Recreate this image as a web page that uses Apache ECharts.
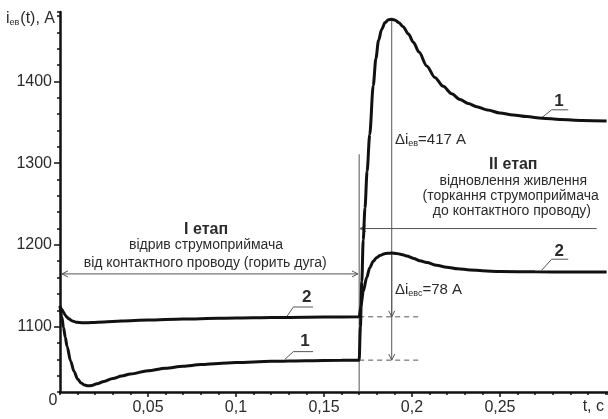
<!DOCTYPE html>
<html>
<head>
<meta charset="utf-8">
<script src="https://cdn.jsdelivr.net/npm/echarts@6/dist/echarts.min.js"></script>
<style>
  html, body { margin: 0; padding: 0; background: #fff; }
  #chart { width: 608px; height: 419px; }
</style>
</head>
<body>
<div id="chart"></div>
<script>
// Curve 1: time, s
const time1 = [
  0, 0.001, 0.002, 0.003, 0.004, 0.006, 0.008, 0.010, 0.012, 0.014, 0.016, 0.018,
  0.021, 0.025, 0.030, 0.035, 0.040, 0.050, 0.060, 0.070, 0.080, 0.090, 0.100,
  0.120, 0.140, 0.160, 0.170,
  0.1707, 0.1715, 0.1723, 0.1733, 0.1745, 0.1760, 0.1780, 0.1795, 0.1810, 0.1828,
  0.1847, 0.1866, 0.1885, 0.1905, 0.1925, 0.1950, 0.1980, 0.2008, 0.2040, 0.2084,
  0.2130, 0.2178, 0.2225, 0.2273, 0.2320, 0.2368, 0.2430, 0.2500, 0.2575, 0.2652,
  0.2740, 0.2840, 0.2970, 0.3106
];
// Curve 1: current, A
const current1 = [
  1125, 1112, 1099, 1087, 1076, 1058, 1045, 1036, 1031, 1028.5, 1027.5, 1028,
  1030, 1033, 1036.5, 1039.5, 1042, 1046, 1049, 1051.5, 1053.5, 1055, 1056,
  1057.5, 1058.3, 1058.8, 1059,
  1100, 1155, 1206, 1245, 1290, 1335, 1395, 1428, 1450, 1464,
  1472, 1475.5, 1476, 1475, 1472, 1467, 1458, 1448, 1436, 1419,
  1405, 1394, 1385, 1378, 1373, 1369, 1365, 1361.5, 1359, 1357,
  1355, 1353.5, 1352.3, 1351.5
];

// Curve 2: time, s
const time2 = [
  0, 0.001, 0.002, 0.003, 0.004, 0.005, 0.007, 0.009, 0.011, 0.014, 0.018, 0.025,
  0.035, 0.050, 0.070, 0.090, 0.110, 0.130, 0.150, 0.170,
  0.1710, 0.1723, 0.1743, 0.1760, 0.1780, 0.1800, 0.1818, 0.1840, 0.1862, 0.1885,
  0.1910, 0.1940, 0.1970, 0.2010, 0.2045, 0.2084, 0.2140, 0.2197, 0.2260, 0.2330,
  0.2400, 0.2500, 0.2700, 0.2900, 0.3106
];
// Curve 2: current, A
const current2 = [
  1125, 1121, 1117.5, 1114, 1111.5, 1109.5, 1107, 1105.5, 1105, 1104.7, 1105, 1105.8,
  1106.8, 1108, 1109.3, 1110.2, 1110.8, 1111.3, 1111.7, 1112,
  1125, 1143, 1160, 1172, 1180, 1184.5, 1187, 1189, 1189.8, 1190,
  1189.6, 1188.4, 1186.5, 1183.5, 1180.5, 1178.4, 1175, 1172.8, 1170.8, 1169.4,
  1168.3, 1167.4, 1167, 1166.8, 1166.7
];

// Axis ticks
const xTickValues = [0.05, 0.10, 0.15, 0.20, 0.25];
const xTickLabels = ['0,05', '0,1', '0,15', '0,2', '0,25'];
const yTickValues = [1100, 1200, 1300, 1400];
const yTickLabels = ['1100', '1200', '1300', '1400'];

// Switching moment and current jumps
const switchTime = 0.17;
const peakTime = 0.1885;
const level1 = 1059, peak1 = 1476;   // curve 1
const level2 = 1112, peak2 = 1190;   // curve 2
const deltaMain = peak1 - level1;    // 417 A
const deltaC = peak2 - level2;       // 78 A

// Dimension lines: [t1, i1, t2, i2, arrowAtStart, arrowAtEnd, dashed]
const guideLines = [
  [switchTime, 1020, switchTime, 1311, 0, 0, 0],
  [0.0011, 1164.5, 0.1693, 1164.5, 1, 1, 0],
  [0.1705, 1220, 0.305, 1220, 1, 0, 0],
  [peakTime, peak1, peakTime, level1, 0, 1, 0],
  [peakTime, peak2, peakTime, level2, 0, 1, 0],
  [switchTime, level2, 0.204, level2, 0, 0, 1],
  [switchTime, level1, 0.204, level1, 0, 0, 1]
];

// Curve number leaders: [t0, i0, t1, i1, t2, i2]
const leaders = [
  [0.1288, 1112, 0.1326, 1124, 0.1438, 1124],
  [0.1278, 1060, 0.1326, 1069.4, 0.1438, 1069.4],
  [0.2737, 1355.5, 0.2794, 1365.3, 0.2888, 1365.3],
  [0.2737, 1169, 0.2794, 1182.5, 0.2888, 1182.5]
];

// Text labels: [text, t, i, style]
const textTags = [
  ['2', 0.1402, 1136.4, 'num'],
  ['1', 0.1392, 1081.6, 'num'],
  ['1', 0.2835, 1375.5, 'num'],
  ['2', 0.2837, 1191.8, 'num'],
  ['I етап', 0.083, 1219.3, 'head'],
  ['відрив струмоприймача', 0.083, 1200, 'body'],
  ['від контактного проводу (горить дуга)', 0.0825, 1177.6, 'body'],
  ['II етап', 0.2576, 1298, 'head'],
  ['відновлення живлення', 0.2576, 1277.5, 'body'],
  ['(торкання струмоприймача', 0.2561, 1259.2, 'body'],
  ['до контактного проводу)', 0.2568, 1240.8, 'body'],
  ['{a|Δi}{s|ев}{a|=' + deltaMain + ' A}', 0.1903, 1328.6, 'delta'],
  ['{a|Δi}{s|евс}{a|=' + deltaC + ' A}', 0.1903, 1145, 'delta']
];

const FONT = '"Liberation Sans", Arial, sans-serif';
const TEXT_COLOR = '#2b2b2b';
const GUIDE_COLOR = '#555';

const textStyles = {
  num:   { fontSize: 17, fontWeight: 'bold', align: 'center' },
  head:  { fontSize: 16, fontWeight: 'bold', align: 'center' },
  body:  { fontSize: 14, fontWeight: 'normal', align: 'center' },
  delta: { fontSize: 15, fontWeight: 'normal', align: 'left',
           rich: { a: { fontSize: 15, fontFamily: FONT, fill: TEXT_COLOR },
                   s: { fontSize: 9, fontFamily: FONT, fill: TEXT_COLOR, padding: [8, 0, 0, 0] } } }
};

function zip(a, b) { return a.map((v, i) => [v, b[i]]); }

function arrowHead(tip, from, children) {
  const dx = from[0] - tip[0], dy = from[1] - tip[1];
  const L = Math.hypot(dx, dy) || 1;
  const ux = dx / L, uy = dy / L, len = 6, w = 3;
  children.push({
    type: 'polyline',
    shape: { points: [
      [tip[0] + ux * len - uy * w, tip[1] + uy * len + ux * w],
      [tip[0], tip[1]],
      [tip[0] + ux * len + uy * w, tip[1] + uy * len - ux * w]
    ] },
    style: { stroke: GUIDE_COLOR, lineWidth: 1, fill: null }
  });
}

function renderGuide(params, api) {
  const a = api.coord([api.value(0), api.value(1)]);
  const b = api.coord([api.value(2), api.value(3)]);
  const children = [{
    type: 'line',
    shape: { x1: a[0], y1: a[1], x2: b[0], y2: b[1] },
    style: { stroke: GUIDE_COLOR, lineWidth: 1, lineDash: api.value(6) ? [5, 4] : null }
  }];
  if (api.value(4)) arrowHead(a, b, children);
  if (api.value(5)) arrowHead(b, a, children);
  return { type: 'group', children: children };
}

function renderLeader(params, api) {
  const pts = [0, 2, 4].map(k => api.coord([api.value(k), api.value(k + 1)]));
  return { type: 'polyline', shape: { points: pts },
           style: { stroke: GUIDE_COLOR, lineWidth: 1, fill: null } };
}

function renderText(params, api) {
  const d = textTags[params.dataIndex];
  const p = api.coord([api.value(0), api.value(1)]);
  const st = textStyles[d[3]];
  return {
    type: 'text', x: p[0], y: p[1],
    style: {
      text: d[0], align: st.align, verticalAlign: 'middle',
      fill: TEXT_COLOR, fontSize: st.fontSize, fontWeight: st.fontWeight,
      fontFamily: FONT, rich: st.rich
    }
  };
}

const chart = echarts.init(document.getElementById('chart'), null, { renderer: 'canvas' });

const xMin = 0, xMax = 0.3114, yMin = 1020, yMax = 1485;

chart.setOption({
  animation: false,
  backgroundColor: '#fff',
  grid: { left: 60, top: 12, width: 548, height: 380, containLabel: false },
  xAxis: [
    {
      type: 'value', position: 'bottom', min: xMin, max: xMax, interval: 0.01,
      axisLine: { lineStyle: { color: '#111', width: 2.5 } },
      axisTick: { length: 3, lineStyle: { color: '#111', width: 1.5 } },
      axisLabel: { show: false },
      splitLine: { show: false }
    },
    {
      type: 'value', position: 'bottom', min: xMin, max: xMax,
      axisLine: { show: false },
      axisTick: { show: true, customValues: xTickValues, length: 5,
                  lineStyle: { color: '#111', width: 1.5 } },
      axisLabel: {
        customValues: xTickValues, margin: 8,
        color: TEXT_COLOR, fontSize: 16, fontFamily: FONT,
        formatter: function (v) {
          const k = xTickValues.findIndex(x => Math.abs(x - v) < 1e-6);
          return k >= 0 ? xTickLabels[k] : '';
        }
      },
      splitLine: { show: false }
    }
  ],
  yAxis: [
    {
      type: 'value', position: 'left', min: yMin, max: yMax, interval: 20,
      axisLine: { lineStyle: { color: '#111', width: 2.5 } },
      axisTick: { length: 3, lineStyle: { color: '#111', width: 1.5 } },
      axisLabel: { show: false },
      splitLine: { show: false }
    },
    {
      type: 'value', position: 'left', min: yMin, max: yMax,
      axisLine: { show: false },
      axisTick: { show: true, customValues: yTickValues, length: 6,
                  lineStyle: { color: '#111', width: 1.5 } },
      axisLabel: {
        customValues: yTickValues, margin: 8,
        color: TEXT_COLOR, fontSize: 16, fontFamily: FONT,
        formatter: function (v) {
          const k = yTickValues.indexOf(Math.round(v));
          return k >= 0 ? yTickLabels[k] : '';
        }
      },
      splitLine: { show: false }
    }
  ],
  series: [
    {
      type: 'custom', name: 'guides', xAxisIndex: 0, yAxisIndex: 0,
      renderItem: renderGuide, data: guideLines, clip: false, silent: true,
      encode: { x: [0, 2], y: [1, 3] }, z: 1
    },
    {
      type: 'line', name: '1', xAxisIndex: 0, yAxisIndex: 0,
      data: zip(time1, current1), showSymbol: false,
      smooth: 0.3, smoothMonotone: 'x',
      lineStyle: { color: '#111', width: 3 }, z: 3
    },
    {
      type: 'line', name: '2', xAxisIndex: 0, yAxisIndex: 0,
      data: zip(time2, current2), showSymbol: false,
      smooth: 0.3, smoothMonotone: 'x',
      lineStyle: { color: '#111', width: 3 }, z: 3
    },
    {
      type: 'custom', name: 'leaders', xAxisIndex: 0, yAxisIndex: 0,
      renderItem: renderLeader, data: leaders, clip: false, silent: true,
      encode: { x: [0, 2, 4], y: [1, 3, 5] }, z: 2
    },
    {
      type: 'custom', name: 'texts', xAxisIndex: 0, yAxisIndex: 0,
      renderItem: renderText, data: textTags.map(d => [d[1], d[2]]),
      clip: false, silent: true, encode: { x: 0, y: 1 }, z: 4
    }
  ]
});

// Origin mark, axis names
const origin = chart.convertToPixel({ gridIndex: 0 }, [xMin, yMin]);
const xEnd = chart.convertToPixel({ gridIndex: 0 }, [xMax, yMin]);
chart.setOption({
  graphic: [
    { type: 'text', x: origin[0] - 7, y: origin[1] + 9,
      style: { text: '0', align: 'center', verticalAlign: 'middle',
               fill: TEXT_COLOR, fontSize: 16, fontFamily: FONT } },
    { type: 'text', x: xEnd[0] - 4, y: xEnd[1] + 15,
      style: { text: 't, c', align: 'right', verticalAlign: 'middle',
               fill: TEXT_COLOR, fontSize: 16, fontFamily: FONT } },
    { type: 'text', x: 6, y: 19,
      style: { text: '{a|i}{s|ев}{a|(t), A}', align: 'left', verticalAlign: 'middle',
               fill: TEXT_COLOR, fontSize: 16, fontFamily: FONT,
               rich: { a: { fontSize: 16, fontFamily: FONT, fill: TEXT_COLOR },
                       s: { fontSize: 9, fontFamily: FONT, fill: TEXT_COLOR, padding: [8, 1, 0, 0] } } } }
  ]
});
</script>
</body>
</html>
